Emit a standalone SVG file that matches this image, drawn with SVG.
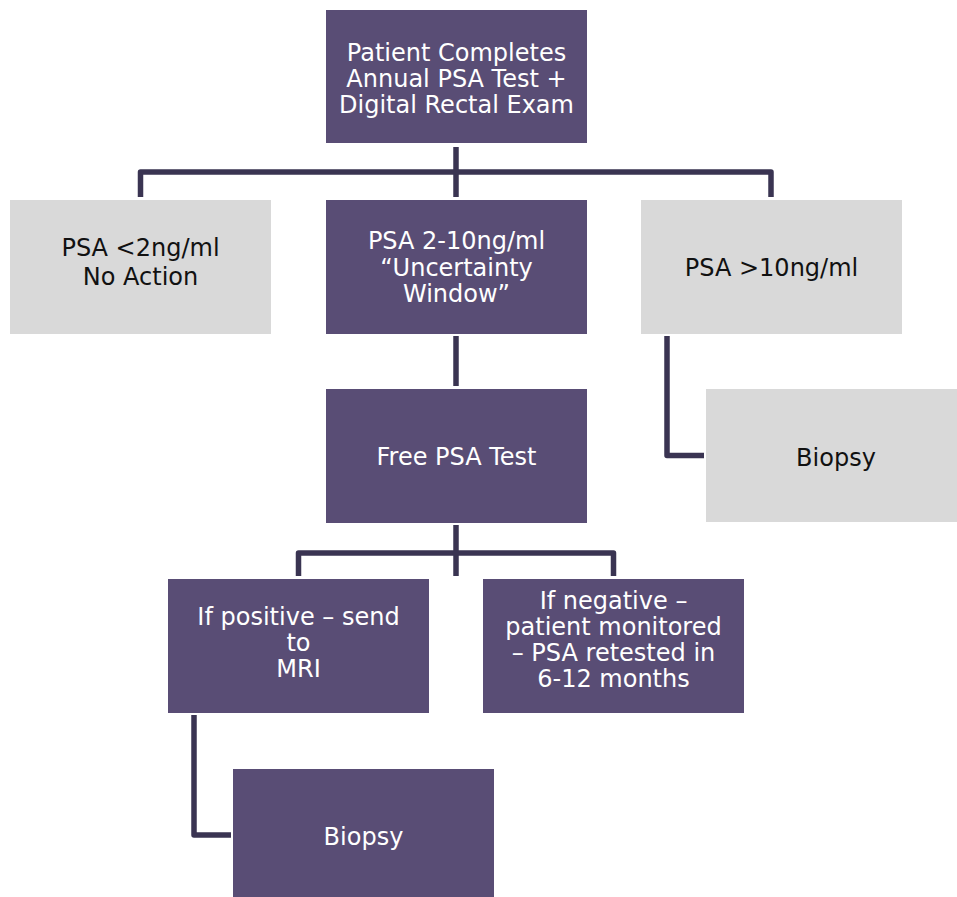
<svg xmlns="http://www.w3.org/2000/svg" width="957" height="897" viewBox="0 0 957 897">
<style>
.p{fill:#594D75}
.g{fill:#D9D9D9}
.tw{fill:#FFFFFF;font-family:"DejaVu Sans",sans-serif;font-size:24px;text-anchor:middle}
.tb{fill:#111111;font-family:"DejaVu Sans",sans-serif;font-size:24px;text-anchor:middle}
.c{fill:none;stroke:#3A3452;stroke-width:5.5;stroke-linejoin:round;stroke-linecap:butt}
</style>
<rect width="957" height="897" fill="#FFFFFF"/>
<g id="connectors">
<path class="c" d="M456,147 V197"/>
<path class="c" d="M140.5,197 V172 H771 V197"/>
<path class="c" d="M456,336 V386"/>
<path class="c" d="M667,336 V455.5 H704"/>
<path class="c" d="M456,525 V576"/>
<path class="c" d="M298.5,576 V553 H613.5 V576"/>
<path class="c" d="M194,715 V835 H231"/>
</g>
<g id="start">
<rect class="p" x="326" y="10" width="261" height="133"/>
<text class="tw" x="456.5" y="61">Patient Completes</text>
<text class="tw" x="456.5" y="87">Annual PSA Test +</text>
<text class="tw" x="456.5" y="113">Digital Rectal Exam</text>
</g>
<g id="low">
<rect class="g" x="10" y="200" width="261" height="134"/>
<text class="tb" x="140.5" y="256">PSA &lt;2ng/ml</text>
<text class="tb" x="140.5" y="285">No Action</text>
</g>
<g id="mid">
<rect class="p" x="326" y="200" width="261" height="134"/>
<text class="tw" x="456.5" y="249">PSA 2-10ng/ml</text>
<text class="tw" x="456.5" y="276">“Uncertainty</text>
<text class="tw" x="456.5" y="302">Window”</text>
</g>
<g id="high">
<rect class="g" x="641" y="200" width="261" height="134"/>
<text class="tb" x="771.5" y="276">PSA &gt;10ng/ml</text>
</g>
<g id="biopsy-high">
<rect class="g" x="706" y="389" width="251" height="133"/>
<text class="tb" x="836" y="466">Biopsy</text>
</g>
<g id="free-psa">
<rect class="p" x="326" y="389" width="261" height="134"/>
<text class="tw" x="456.5" y="465">Free PSA Test</text>
</g>
<g id="positive">
<rect class="p" x="168" y="579" width="261" height="134"/>
<text class="tw" x="298.5" y="625">If positive – send</text>
<text class="tw" x="298.5" y="651">to</text>
<text class="tw" x="298.5" y="677">MRI</text>
</g>
<g id="negative">
<rect class="p" x="483" y="579" width="261" height="134"/>
<text class="tw" x="613.5" y="609">If negative –</text>
<text class="tw" x="613.5" y="635">patient monitored</text>
<text class="tw" x="613.5" y="661">– PSA retested in</text>
<text class="tw" x="613.5" y="687">6-12 months</text>
</g>
<g id="biopsy-mri">
<rect class="p" x="233" y="769" width="261" height="128"/>
<text class="tw" x="363.5" y="845">Biopsy</text>
</g>
</svg>
